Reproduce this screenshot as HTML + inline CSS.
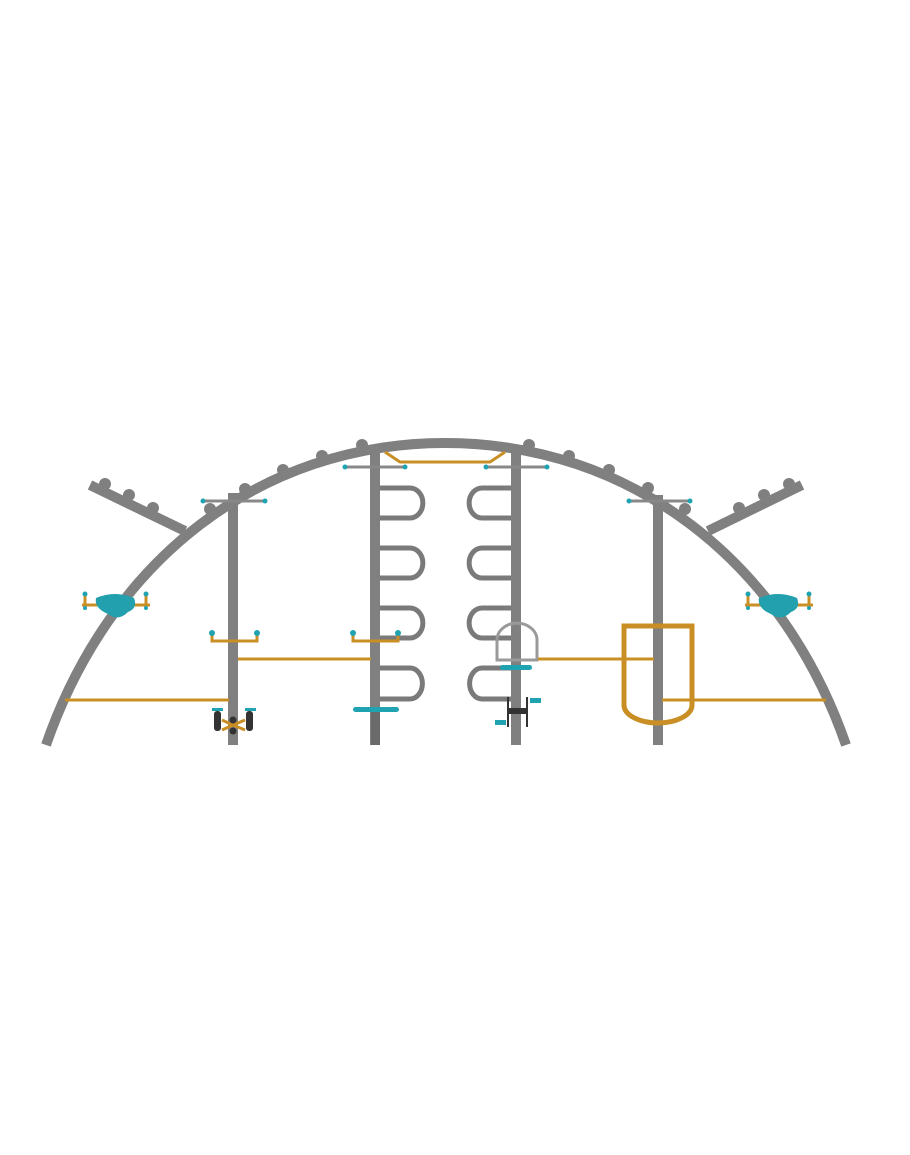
<!DOCTYPE html>
<html><head><meta charset="utf-8"><style>html,body{margin:0;padding:0;background:#fff}svg{display:block}</style></head>
<body>
<svg width="910" height="1155" viewBox="0 0 910 1155" xmlns="http://www.w3.org/2000/svg">
<g fill="#7f7f7f">
 <!-- bumps on arch -->
 <circle cx="210" cy="509" r="6"/><circle cx="245" cy="489" r="6"/><circle cx="283" cy="470" r="6"/><circle cx="322" cy="456" r="6"/><circle cx="362" cy="445" r="6"/>
 <circle cx="529" cy="445" r="6"/><circle cx="569" cy="456" r="6"/><circle cx="609" cy="470" r="6"/><circle cx="648" cy="488" r="6"/><circle cx="685" cy="509" r="6"/>
 <!-- side arm bumps -->
 <circle cx="105" cy="484" r="6"/><circle cx="129" cy="495" r="6"/><circle cx="153" cy="508" r="6"/>
 <circle cx="789" cy="484" r="6"/><circle cx="764" cy="495" r="6"/><circle cx="739" cy="508" r="6"/>
</g>
<g stroke="#808080" fill="none" stroke-linecap="butt">
 <line x1="90" y1="485" x2="185" y2="531" stroke-width="10"/>
 <line x1="802" y1="485" x2="708" y2="531" stroke-width="10"/>
 <path d="M46,745 C110,560 260,443 445,443 C630,443 782,560 846,745" stroke-width="10"/>
 <!-- posts -->
 <line x1="233" y1="493" x2="233" y2="745" stroke-width="10"/>
 <line x1="375" y1="450" x2="375" y2="745" stroke-width="10"/>
 <line x1="516" y1="450" x2="516" y2="745" stroke-width="10"/>
 <line x1="658" y1="495" x2="658" y2="745" stroke-width="10"/>
 <!-- ladders -->
 <g stroke-width="5" stroke="#7a7a7a">
  <path d="M380,488 H410 A12,14 0 0 1 410,518 H380"/>
  <path d="M380,548 H410 A12,14 0 0 1 410,578 H380"/>
  <path d="M380,608 H410 A12,14 0 0 1 410,638 H380"/>
  <path d="M380,668 H410 A12,15 0 0 1 410,699 H380"/>
  <path d="M511,488 H482 A12,14 0 0 0 482,518 H511"/>
  <path d="M511,548 H482 A12,14 0 0 0 482,578 H511"/>
  <path d="M511,608 H482 A12,14 0 0 0 482,638 H511"/>
  <path d="M511,668 H482 A12,15 0 0 0 482,699 H511"/>
 </g>
 <!-- crossbars -->
 <g stroke-width="3" stroke="#888">
  <line x1="203" y1="501" x2="265" y2="501"/><line x1="345" y1="467" x2="405" y2="467"/>
  <line x1="486" y1="467" x2="547" y2="467"/><line x1="629" y1="501" x2="690" y2="501"/>
 </g>
 <!-- bike handle -->
 <path d="M497,660 V640 A19,16 0 0 1 537,640 V660 Z" stroke="#9a9a9a" stroke-width="3"/>
</g>
<g fill="#1fa3b0">
 <circle cx="203" cy="501" r="2.5"/><circle cx="265" cy="501" r="2.5"/><circle cx="345" cy="467" r="2.5"/><circle cx="405" cy="467" r="2.5"/>
 <circle cx="486" cy="467" r="2.5"/><circle cx="547" cy="467" r="2.5"/><circle cx="629" cy="501" r="2.5"/><circle cx="690" cy="501" r="2.5"/>
</g>
<g stroke="#c98f25" fill="none">
 <path d="M385,452 L400,462 H490 L505,452" stroke-width="3"/>
 <line x1="65" y1="700" x2="229" y2="700" stroke-width="3"/>
 <line x1="238" y1="659" x2="371" y2="659" stroke-width="3"/>
 <line x1="538" y1="659" x2="654" y2="659" stroke-width="3"/>
 <line x1="662" y1="700" x2="826" y2="700" stroke-width="3"/>
 <path d="M212,633 V641 H257 V633" stroke-width="3"/>
 <path d="M353,633 V641 H398 V633" stroke-width="3"/>
 <path d="M624,626 H692 V705 A34,18 0 0 1 624,705 Z" stroke-width="5"/>
 <path d="M85,594 V607 M146,594 V607 M82,605 H150" stroke-width="3"/>
 <path d="M748,594 V607 M809,594 V607 M745,605 H813" stroke-width="3"/>
 <path d="M222,720 L233,725 L245,720 M222,730 L233,725 L245,730" stroke-width="3"/>
</g>
<g fill="#1fa3b0">
 <circle cx="212" cy="633" r="3"/><circle cx="257" cy="633" r="3"/><circle cx="353" cy="633" r="3"/><circle cx="398" cy="633" r="3"/>
 <circle cx="85" cy="594" r="2.5"/><circle cx="146" cy="594" r="2.5"/><circle cx="85" cy="608" r="2"/><circle cx="146" cy="608" r="2"/>
 <circle cx="748" cy="594" r="2.5"/><circle cx="809" cy="594" r="2.5"/><circle cx="748" cy="608" r="2"/><circle cx="809" cy="608" r="2"/>
 <path d="M96,598 Q115,590 134,598 Q138,608 128,612 Q118,622 108,614 Q94,608 96,598 Z" fill="#22a0ad"/>
 <path d="M759,598 Q778,590 797,598 Q801,608 791,612 Q781,622 771,614 Q757,608 759,598 Z" fill="#22a0ad"/>
 <rect x="353" y="707" width="46" height="5" rx="2.5"/>
 <rect x="500" y="665" width="32" height="5" rx="2.5"/>
 <rect x="212" y="708" width="11" height="3"/><rect x="245" y="708" width="11" height="3"/>
 <rect x="530" y="698" width="11" height="5"/><rect x="495" y="720" width="11" height="5"/>
</g>
<g fill="#333">
 <rect x="214" y="711" width="7" height="20" rx="3"/><rect x="246" y="711" width="7" height="20" rx="3"/>
 <circle cx="233" cy="720" r="3.5"/><circle cx="233" cy="731" r="3.5"/>
 <rect x="507" y="697" width="2" height="30"/><rect x="526" y="697" width="2" height="30"/>
 <rect x="508" y="708" width="20" height="6"/>
</g>
<rect x="371" y="712" width="9" height="33" fill="#6a6a6a"/>
</svg>
</body></html>
